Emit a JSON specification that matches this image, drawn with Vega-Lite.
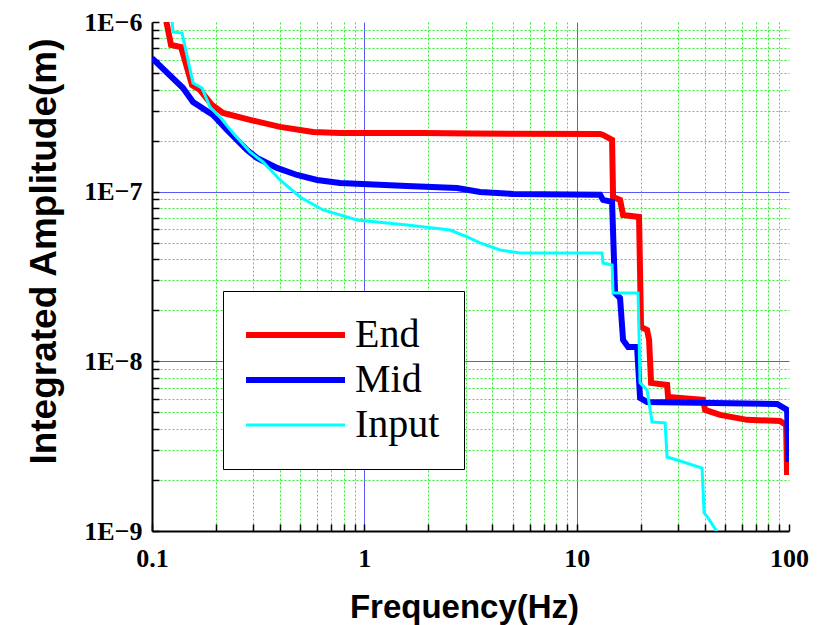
{
  "$schema": "https://vega.github.io/schema/vega-lite/v6.json",
  "autosize": "none",
  "width": 637,
  "height": 509,
  "padding": {"left": 152, "top": 22, "right": 37, "bottom": 94},
  "background": "white",
  "config": {"view": {"stroke": null}},
  "data": {"values": [
    {"s":"End","f":0.1164,"a":1.03e-6},{"s":"End","f":0.1229,"a":7.32e-7},{"s":"End","f":0.137,"a":7.12e-7},{"s":"End","f":0.1543,"a":4.25e-7},{"s":"End","f":0.1684,"a":3.97e-7},{"s":"End","f":0.1917,"a":3.24e-7},{"s":"End","f":0.216,"a":2.91e-7},{"s":"End","f":0.2894,"a":2.65e-7},{"s":"End","f":0.4008,"a":2.41e-7},{"s":"End","f":0.5733,"a":2.25e-7},{"s":"End","f":0.7684,"a":2.22e-7},{"s":"End","f":1.89,"a":2.22e-7},{"s":"End","f":3.25,"a":2.2e-7},{"s":"End","f":12.89,"a":2.19e-7},{"s":"End","f":13.31,"a":2.16e-7},{"s":"End","f":14.68,"a":2.02e-7},{"s":"End","f":14.84,"a":9.31e-8},{"s":"End","f":16.01,"a":8.94e-8},{"s":"End","f":16.54,"a":7.29e-8},{"s":"End","f":19.67,"a":7.1e-8},{"s":"End","f":20.1,"a":1.594e-8},{"s":"End","f":21.46,"a":1.531e-8},{"s":"End","f":21.93,"a":1.337e-8},{"s":"End","f":22.41,"a":7.46e-9},{"s":"End","f":26.66,"a":7.26e-9},{"s":"End","f":26.95,"a":6.17e-9},{"s":"End","f":39.39,"a":5.93e-9},{"s":"End","f":40.25,"a":5.17e-9},{"s":"End","f":47.36,"a":4.83e-9},{"s":"End","f":63.48,"a":4.52e-9},{"s":"End","f":90.81,"a":4.45e-9},{"s":"End","f":96.9,"a":4.22e-9},{"s":"End","f":97.95,"a":2.14e-9},
    {"s":"Mid","f":0.1,"a":6.13e-7},{"s":"Mid","f":0.14,"a":4.08e-7},{"s":"Mid","f":0.156,"a":3.38e-7},{"s":"Mid","f":0.1938,"a":2.83e-7},{"s":"Mid","f":0.2256,"a":2.31e-7},{"s":"Mid","f":0.2802,"a":1.76e-7},{"s":"Mid","f":0.3123,"a":1.58e-7},{"s":"Mid","f":0.3879,"a":1.38e-7},{"s":"Mid","f":0.4819,"a":1.254e-7},{"s":"Mid","f":0.5988,"a":1.172e-7},{"s":"Mid","f":0.7684,"a":1.125e-7},{"s":"Mid","f":1.589,"a":1.08e-7},{"s":"Mid","f":2.734,"a":1.051e-7},{"s":"Mid","f":3.508,"a":9.96e-8},{"s":"Mid","f":5.0,"a":9.7e-8},{"s":"Mid","f":12.89,"a":9.6e-8},{"s":"Mid","f":13.31,"a":8.94e-8},{"s":"Mid","f":14.68,"a":8.7e-8},{"s":"Mid","f":15.17,"a":2.53e-8},{"s":"Mid","f":16.01,"a":2.36e-8},{"s":"Mid","f":16.54,"a":1.337e-8},{"s":"Mid","f":17.47,"a":1.216e-8},{"s":"Mid","f":19.25,"a":1.216e-8},{"s":"Mid","f":19.89,"a":6.09e-9},{"s":"Mid","f":21.46,"a":5.76e-9},{"s":"Mid","f":87.9,"a":5.61e-9},{"s":"Mid","f":97.95,"a":5.17e-9},{"s":"Mid","f":99.5,"a":2.55e-9},
    {"s":"Input","f":0.1242,"a":1.03e-6},{"s":"Input","f":0.1256,"a":8.73e-7},{"s":"Input","f":0.1385,"a":8.61e-7},{"s":"Input","f":0.156,"a":4.37e-7},{"s":"Input","f":0.172,"a":4.08e-7},{"s":"Input","f":0.1876,"a":3.15e-7},{"s":"Input","f":0.209,"a":2.75e-7},{"s":"Input","f":0.2407,"a":2.22e-7},{"s":"Input","f":0.2894,"a":1.714e-7},{"s":"Input","f":0.3333,"a":1.496e-7},{"s":"Input","f":0.4008,"a":1.172e-7},{"s":"Input","f":0.4979,"a":9.31e-8},{"s":"Input","f":0.6391,"a":7.8e-8},{"s":"Input","f":0.924,"a":6.81e-8},{"s":"Input","f":1.589,"a":6.36e-8},{"s":"Input","f":2.533,"a":5.94e-8},{"s":"Input","f":3.046,"a":5.41e-8},{"s":"Input","f":3.508,"a":4.99e-8},{"s":"Input","f":4.358,"a":4.53e-8},{"s":"Input","f":5.41,"a":4.35e-8},{"s":"Input","f":13.17,"a":4.35e-8},{"s":"Input","f":13.31,"a":3.8e-8},{"s":"Input","f":14.68,"a":3.7e-8},{"s":"Input","f":14.84,"a":2.53e-8},{"s":"Input","f":19.46,"a":2.53e-8},{"s":"Input","f":19.89,"a":7.46e-9},{"s":"Input","f":21.46,"a":6.78e-9},{"s":"Input","f":22.65,"a":4.39e-9},{"s":"Input","f":26.09,"a":4.34e-9},{"s":"Input","f":26.66,"a":2.73e-9},{"s":"Input","f":29.71,"a":2.62e-9},{"s":"Input","f":38.97,"a":2.35e-9},{"s":"Input","f":39.82,"a":1.278e-9},{"s":"Input","f":41.58,"a":1.194e-9},{"s":"Input","f":45.85,"a":9.88e-10}
  ]},
  "mark": {"type": "line", "clip": true},
  "encoding": {
    "x": {
      "field": "f", "type": "quantitative",
      "scale": {"type": "log", "domain": [0.1, 100], "nice": false},
      "axis": {
        "values": [0.1,0.2,0.3,0.4,0.5,0.6,0.7,0.8,0.9,1,2,3,4,5,6,7,8,9,10,20,30,40,50,60,70,80,90,100],
        "labelExpr": "datum.value==0.1?'0.1':datum.value==1?'1':datum.value==10?'10':datum.value==100?'100':''",
        "labelFont": "Liberation Serif", "labelFontWeight": "bold", "labelFontSize": 26, "labelColor": "black",
        "labelPadding": 21, "labelFlush": false, "labelOverlap": false,
        "grid": true, "gridWidth": 1,
        "gridColor": {"condition": {"test": "datum.value==1||datum.value==10", "value": "#5a5aff"}, "value": "#33ee33"},
        "gridDash": {"condition": {"test": "datum.value==1||datum.value==10", "value": []}, "value": [2, 2]},
        "gridOpacity": {"condition": {"test": "datum.value==0.1||datum.value==100", "value": 0}, "value": 1},
        "domainColor": "black", "domainWidth": 2,
        "tickColor": "black", "tickSize": -7, "tickWidth": 1.5,
        "title": "Frequency(Hz)", "titleFont": "Liberation Sans", "titleFontWeight": "bold", "titleFontSize": 33, "titleColor": "black",
        "titleX": 312, "titleY": 86, "titleBaseline": "alphabetic", "titleAlign": "center"
      }
    },
    "y": {
      "field": "a", "type": "quantitative",
      "scale": {"type": "log", "domain": [1e-9, 1e-6], "nice": false},
      "axis": {
        "values": [1e-9,2e-9,3e-9,4e-9,5e-9,6e-9,7e-9,8e-9,9e-9,1e-8,2e-8,3e-8,4e-8,5e-8,6e-8,7e-8,8e-8,9e-8,1e-7,2e-7,3e-7,4e-7,5e-7,6e-7,7e-7,8e-7,9e-7,1e-6],
        "labelExpr": "datum.value==1e-6?'1E−6':datum.value==1e-7?'1E−7':datum.value==1e-8?'1E−8':datum.value==1e-9?'1E−9':''",
        "labelFont": "Liberation Serif", "labelFontWeight": "bold", "labelFontSize": 26, "labelColor": "black",
        "labelPadding": 17, "labelFlush": false, "labelOverlap": false,
        "grid": true, "gridWidth": 1,
        "gridColor": {"condition": {"test": "datum.value==1e-7||datum.value==1e-8", "value": "#5a5aff"}, "value": "#33ee33"},
        "gridDash": {"condition": {"test": "datum.value==1e-7||datum.value==1e-8", "value": []}, "value": [2, 2]},
        "gridOpacity": {"condition": {"test": "datum.value==1e-9||datum.value==1e-6", "value": 0}, "value": 1},
        "domainColor": "black", "domainWidth": 2,
        "tickColor": "black", "tickSize": -7, "tickWidth": 1.5,
        "title": "Integrated Amplitude(m)", "titleFont": "Liberation Sans", "titleFontWeight": "bold", "titleFontSize": 37, "titleColor": "black",
        "titleX": -97, "titleY": 229, "titleBaseline": "alphabetic", "titleAlign": "center", "titleAngle": -90
      }
    },
    "color": {
      "field": "s", "type": "nominal",
      "scale": {"domain": ["End", "Mid", "Input"], "range": ["#ff0000", "#0000ff", "#00ffff"]},
      "legend": {"orient": "none", "legendX": 71, "legendY": 269, "title": null, "strokeColor": "black", "fillColor": "white", "padding": 24, "symbolType": "M-2.1,0H7.8", "symbolSize": 400, "labelFont": "Liberation Serif", "labelFontSize": 40, "labelColor": "black", "labelOffset": 68, "rowPadding": 5, "labelLimit": 300}
    },
    "strokeWidth": {
      "field": "s", "type": "nominal",
      "scale": {"type": "ordinal", "domain": ["End", "Mid", "Input"], "range": [6, 6, 3]},
      "legend": {"orient": "none", "legendX": 71, "legendY": 269, "title": null, "strokeColor": "black", "fillColor": "white", "padding": 24, "symbolType": "M-2.1,0H7.8", "symbolSize": 400, "labelFont": "Liberation Serif", "labelFontSize": 40, "labelColor": "black", "labelOffset": 68, "rowPadding": 5, "labelLimit": 300}
    }
  }
}
